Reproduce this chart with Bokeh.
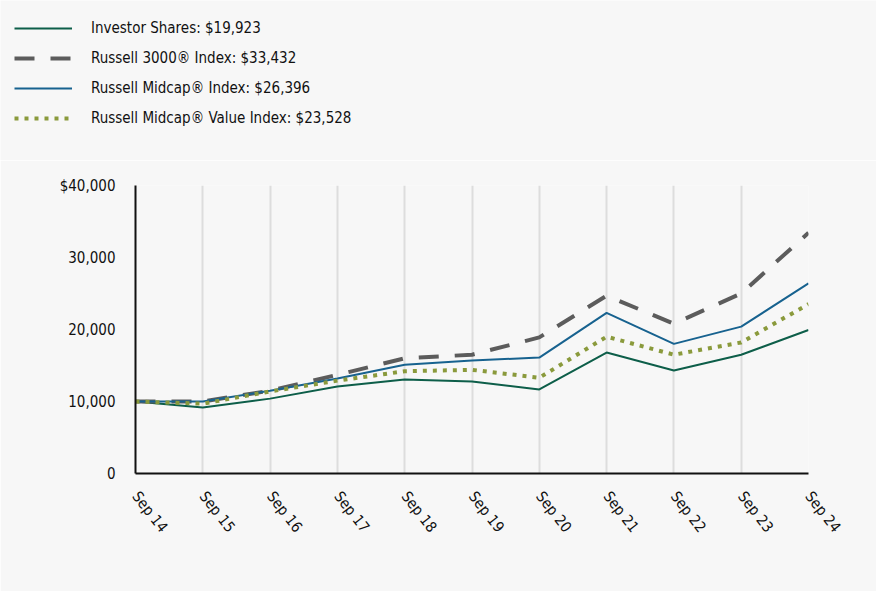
import math
from bokeh.plotting import figure
from bokeh.models import Legend, LegendItem, FixedTicker, Range1d
from bokeh.embed import file_html
from bokeh.resources import INLINE

labels = ["Sep 14", "Sep 15", "Sep 16", "Sep 17", "Sep 18", "Sep 19",
          "Sep 20", "Sep 21", "Sep 22", "Sep 23", "Sep 24"]
investor = [10000, 9170, 10400, 12080, 13060, 12780, 11670, 16800, 14300, 16500, 19923]
russell3000 = [10000, 10000, 11500, 13700, 16000, 16500, 18900, 24700, 20800, 25000, 33432]
midcap = [10000, 10000, 11500, 13200, 15100, 15700, 16100, 22300, 18000, 20400, 26396]
midcap_value = [10000, 9700, 11400, 12900, 14200, 14400, 13300, 19000, 16500, 18200, 23528]
y_ticks = [0, 10000, 20000, 30000, 40000]
y_tick_labels = ["0", "10,000", "20,000", "30,000", "$40,000"]
legend_labels = ["Investor Shares: $19,923", "Russell 3000® Index: $33,432",
                 "Russell Midcap® Index: $26,396", "Russell Midcap® Value Index: $23,528"]

FONT = "DejaVu Sans Condensed"
BG = "#f7f7f7"
TXT = "#111111"
styles = [dict(line_color="#0d5e49", line_width=2),
          dict(line_color="#5c5c5c", line_width=4, line_dash="20 16"),
          dict(line_color="#17628f", line_width=2),
          dict(line_color="#8a9a3c", line_width=4, line_dash="4 6")]
x = list(range(len(labels)))

# legend panel (its proxy lines lie outside the visible range)
pl = figure(width=876, height=160, output_backend="svg", toolbar_location=None,
            x_range=Range1d(0, 1), y_range=Range1d(0, 1),
            x_axis_location=None, y_axis_location=None,
            min_border_left=0, min_border_right=0, min_border_top=0, min_border_bottom=0)
pl.background_fill_color = BG
pl.border_fill_color = BG
pl.outline_line_color = None
pl.grid.visible = False
leg_renderers = [pl.line([5, 6], [5, 6], **s) for s in styles]
legend = Legend(items=[LegendItem(label=l, renderers=[r]) for l, r in zip(legend_labels, leg_renderers)],
                location=(14, 32), orientation="vertical",
                background_fill_alpha=0, border_line_color=None,
                glyph_width=58, glyph_height=20, label_standoff=19, spacing=10,
                padding=0, margin=0,
                label_text_font=FONT, label_text_font_size="15px", label_text_color=TXT)
pl.add_layout(legend, "center")

# main chart
p = figure(width=876, height=431, output_backend="svg", toolbar_location=None,
           x_range=Range1d(0, len(labels) - 1), y_range=Range1d(0, 40000),
           min_border_left=135, min_border_right=68, min_border_top=25, min_border_bottom=118)
p.background_fill_color = BG
p.border_fill_color = BG
p.outline_line_color = None

p.line(x, investor, **styles[0])
p.line(x, russell3000, **styles[1])
p.line(x, midcap, **styles[2])
p.line(x, midcap_value, **styles[3])

p.xaxis.ticker = FixedTicker(ticks=x)
p.xaxis.major_label_overrides = {i: l for i, l in enumerate(labels)}
p.xaxis.major_label_orientation = -math.radians(52)
p.yaxis.ticker = FixedTicker(ticks=y_ticks)
p.yaxis.major_label_overrides = {t: l for t, l in zip(y_ticks, y_tick_labels)}
for ax in (p.xaxis, p.yaxis):
    ax.axis_line_color = "#111111"
    ax.axis_line_width = 2
    ax.major_tick_line_color = None
    ax.minor_tick_line_color = None
    ax.major_label_text_font = FONT
    ax.major_label_text_font_size = "15px"
    ax.major_label_text_color = TXT
p.yaxis.major_label_standoff = 14
p.xaxis.major_label_standoff = 14

p.xgrid.grid_line_color = "#dddddd"
p.xgrid.grid_line_width = 2
p.ygrid.grid_line_color = None

open("out.html", "w").write(file_html([pl, p], INLINE))
